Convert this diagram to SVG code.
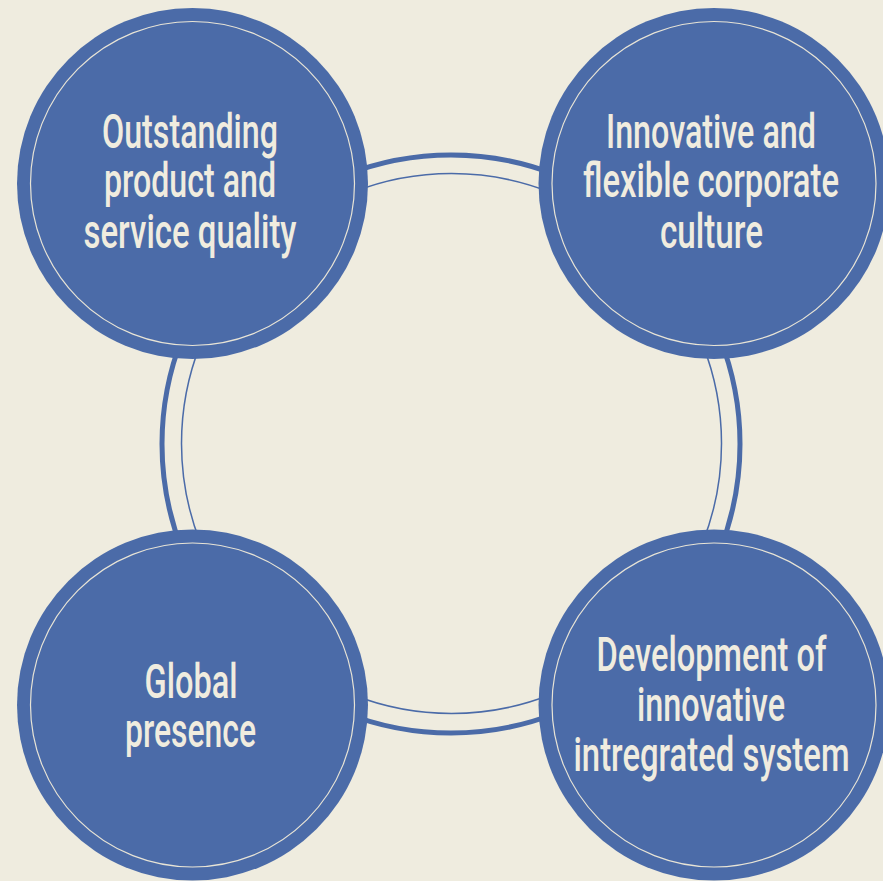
<svg xmlns="http://www.w3.org/2000/svg" width="883" height="881" viewBox="0 0 883 881">
<style>
.bg{fill:#efecdf}
.node{fill:#4b6ba8}
.inner{fill:none;stroke:#e8e4d6;stroke-width:1.2}
.ring{fill:none;stroke:#4b6ba8}
.t{font-family:Roboto,"Liberation Sans",sans-serif;font-size:48.5px;font-weight:500;fill:#f0ecdf;text-anchor:middle}
</style>
<rect class="bg" width="883" height="881"/>
<g id="connectors">
<circle class="ring" cx="451" cy="444" r="289" stroke-width="5"/>
<circle class="ring" cx="451.5" cy="443.5" r="270" stroke-width="1.5"/>
</g>
<g id="node-quality">
<circle class="node" cx="192.5" cy="183.5" r="175.5"/>
<circle class="inner" cx="192.5" cy="183.5" r="162"/>
<text class="t" x="190" y="147.5" textLength="176" lengthAdjust="spacingAndGlyphs">Outstanding</text>
<text class="t" x="190" y="196.5" textLength="172" lengthAdjust="spacingAndGlyphs">product and</text>
<text class="t" x="190" y="247.5" textLength="213" lengthAdjust="spacingAndGlyphs">service quality</text>
</g>
<g id="node-culture">
<circle class="node" cx="714" cy="183.5" r="175.5"/>
<circle class="inner" cx="714" cy="183.5" r="162"/>
<text class="t" x="711" y="147.5" textLength="210" lengthAdjust="spacingAndGlyphs">Innovative and</text>
<text class="t" x="711" y="196.5" textLength="256" lengthAdjust="spacingAndGlyphs">flexible corporate</text>
<text class="t" x="711.5" y="247.5" textLength="103" lengthAdjust="spacingAndGlyphs">culture</text>
</g>
<g id="node-global">
<circle class="node" cx="192.5" cy="705" r="175.5"/>
<circle class="inner" cx="192.5" cy="705" r="162"/>
<text class="t" x="191" y="697.5" textLength="93" lengthAdjust="spacingAndGlyphs">Global</text>
<text class="t" x="190.5" y="747" textLength="131" lengthAdjust="spacingAndGlyphs">presence</text>
</g>
<g id="node-system">
<circle class="node" cx="714" cy="705" r="175.5"/>
<circle class="inner" cx="714" cy="705" r="162"/>
<text class="t" x="711.5" y="671" textLength="230" lengthAdjust="spacingAndGlyphs">Development of</text>
<text class="t" x="711" y="720.5" textLength="148" lengthAdjust="spacingAndGlyphs">innovative</text>
<text class="t" x="711.5" y="771" textLength="276" lengthAdjust="spacingAndGlyphs">intregrated system</text>
</g>
</svg>
